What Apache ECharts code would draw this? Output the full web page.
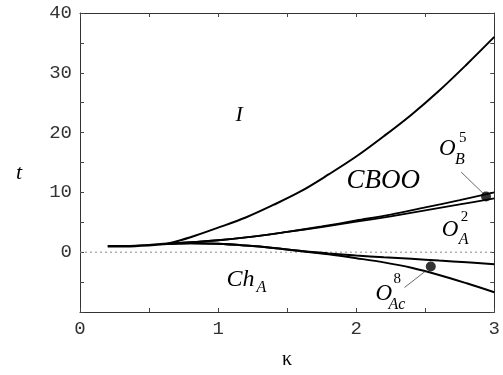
<!DOCTYPE html>
<html><head><meta charset="utf-8">
<script src="https://cdn.jsdelivr.net/npm/echarts@6/dist/echarts.min.js"></script>
<style>html,body{margin:0;padding:0;background:#fff}#c{width:503px;height:375px}</style>
</head><body><div id="c"></div>
<script>
// ---- data ----
const startK = [0.2, 0.4, 0.63];
const startT = [1.0, 1.05, 1.4];
const upperK = [0.63, 0.8, 1.0, 1.2, 1.4, 1.6, 1.8, 2.0, 2.2, 2.4, 2.6, 2.8, 3.0];
const upperT = [1.4, 2.5, 4.1, 5.8, 7.9, 10.2, 13.0, 16.0, 19.4, 23.0, 27.0, 31.4, 36.0];
const midK = [0.63, 1.0, 1.25, 1.5, 1.75, 2.0, 2.25, 2.5, 2.75, 3.0];
const midUpT = [1.4, 2.0, 2.6, 3.4, 4.3, 5.3, 6.3, 7.5, 8.7, 10.0];
const midLoT = [1.4, 2.0, 2.6, 3.4, 4.2, 5.1, 6.0, 7.0, 8.0, 9.0];
const lowK = [0.63, 0.8, 1.0, 1.2, 1.4, 1.6, 1.8, 2.0, 2.2, 2.4, 2.6, 2.8, 3.0];
const lowUpT = [1.4, 1.5, 1.4, 1.1, 0.7, 0.2, -0.2, -0.55, -0.85, -1.1, -1.4, -1.7, -2.0];
const lowLoT = [1.4, 1.5, 1.4, 1.1, 0.7, 0.2, -0.35, -1.0, -1.7, -2.6, -3.8, -5.2, -6.7];
const dotK = [2.94, 2.54];
const dotT = [9.3, -2.4];
const leaderB = [[2.76, 13.4], [2.93, 9.6]];
const leaderAc = [[2.35, -5.9], [2.50, -3.2]];
const xTicks = [0, 1, 2, 3];
const yTicks = [0, 10, 20, 30, 40];

const zip = (a, b) => a.map((v, i) => [v, b[i]]);
const chart = echarts.init(document.getElementById('c'), null, {renderer: 'canvas'});
const lineS = (data, w) => ({type: 'line', data, showSymbol: false, smooth: 0.35,
  lineStyle: {color: '#000', width: w}, silent: true, z: 3});
const tickFont = {fontFamily: 'Liberation Mono', fontSize: 19, color: '#333'};
const axisLine = {show: true, onZero: false, lineStyle: {color: '#333', width: 1}};
const tick = {inside: true, length: 4, lineStyle: {color: '#444'}};
const option = {
  animation: false,
  grid: {left: 80, right: 6, top: 13, bottom: 63},
  xAxis: [{
    type: 'value', min: 0, max: 3, interval: 0.5,
    axisLine, axisTick: tick,
    axisLabel: Object.assign({margin: 7, formatter: v => xTicks.includes(v) ? String(v) : ''}, tickFont),
    splitLine: {show: false},
    name: 'κ', nameLocation: 'middle', nameGap: 38,
    nameTextStyle: {fontFamily: 'Liberation Serif', fontSize: 20, color: '#000'}
  }, {
    type: 'value', position: 'top', min: 0, max: 3, interval: 0.5,
    axisLine, axisTick: tick,
    axisLabel: {show: false}, splitLine: {show: false}
  }],
  yAxis: [{
    type: 'value', min: -10, max: 40, interval: 5,
    axisLine, axisTick: tick,
    axisLabel: Object.assign({margin: 8, formatter: v => yTicks.includes(v) ? String(v) : ''}, tickFont),
    splitLine: {show: false},
    name: 't', nameLocation: 'middle', nameGap: 58, nameRotate: 0,
    nameTextStyle: {fontFamily: 'Liberation Serif', fontStyle: 'italic', fontSize: 22, color: '#000', verticalAlign: 'top'}
  }, {
    type: 'value', position: 'right', min: -10, max: 40, interval: 5,
    axisLine, axisTick: tick,
    axisLabel: {show: false}, splitLine: {show: false}
  }],
  series: [
    {type: 'line', data: [[0, 0], [3, 0]], showSymbol: false, silent: true, z: 1,
     lineStyle: {color: '#888', width: 1, type: [2, 3]}},
    lineS(zip(startK, startT), 2.5),
    lineS(zip(upperK, upperT), 2),
    lineS(zip(midK, midUpT), 1.8),
    lineS(zip(midK, midLoT), 1.8),
    lineS(zip(lowK, lowUpT), 2),
    lineS(zip(lowK, lowLoT), 2),
    {type: 'line', data: leaderB, showSymbol: false, silent: true, lineStyle: {color: '#444', width: 0.8}},
    {type: 'line', data: leaderAc, showSymbol: false, silent: true, lineStyle: {color: '#444', width: 0.8}},
    {type: 'scatter', data: zip(dotK, dotT), symbolSize: 10, itemStyle: {color: '#000'}, silent: true, z: 5}
  ]
};
chart.setOption(option);

// annotations anchored at data coordinates
const serif = 'Liberation Serif';
function txt(anchor, dx, dy, s, size, italic) {
  const p = chart.convertToPixel({gridIndex: 0}, anchor);
  return {type: 'text', x: p[0] + dx, y: p[1] + dy,
    style: {text: s, font: (italic ? 'italic ' : '') + size + 'px "' + serif + '"', fill: '#000',
      textAlign: 'left', textVerticalAlign: 'top'}};
}
const aI = [1.17, 23.0], aC = [1.93, 13.2], aB = [2.6, 18.6], aA = [2.62, 5.0], aCh = [1.06, -3.3], aAc = [2.14, -5.8];
chart.setOption({graphic: [
  txt(aI, -6, -10, 'I', 22, true),
  txt(aC, 0, -6, 'CBOO', 27, true),
  txt(aB, 0, -4, 'O', 23, true), txt(aB, 20, -10, '5', 15, false), txt(aB, 16, 11, 'B', 16, true),
  txt(aA, 0, -4, 'O', 23, true), txt(aA, 19, -13, '2', 15, false), txt(aA, 17, 9, 'A', 16, true),
  txt(aCh, 0, -4, 'Ch', 24, true), txt(aCh, 30, 8, 'A', 16, true),
  txt(aAc, 0, -4, 'O', 23, true), txt(aAc, 18, -15, '8', 15, false), txt(aAc, 13, 10, 'Ac', 16, true)
]});
</script></body></html>
